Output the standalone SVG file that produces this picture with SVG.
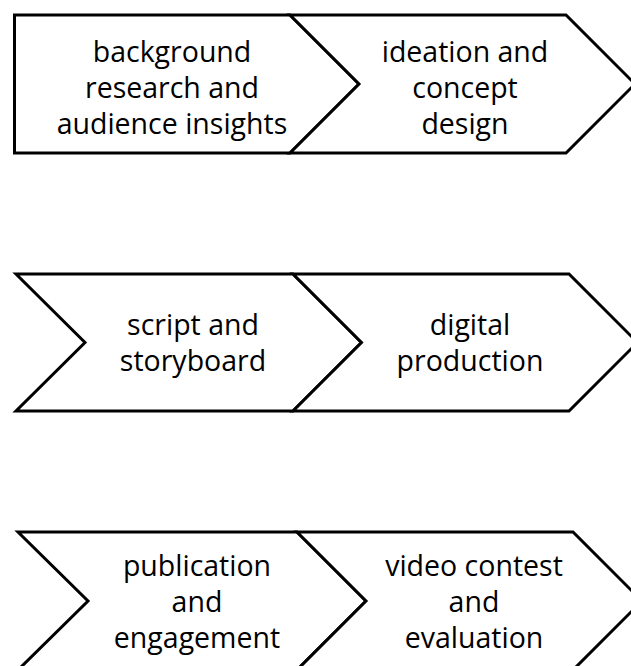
<svg xmlns="http://www.w3.org/2000/svg" width="631" height="666" viewBox="0 0 631 666">
<style>
.shape{fill:#fff;stroke:#000;stroke-width:3;stroke-linejoin:miter}
.t{font-family:"Open Sans","Noto Sans","Liberation Sans",sans-serif;font-size:28.5px;fill:#000;text-anchor:middle}
</style>
<rect width="631" height="666" fill="#fff"/>
<g id="connectors"></g>
<g id="n1">
<path class="shape" d="M14.5,15 H290 L359,84 L290,153 H14.5 Z"/>
<text class="t"><tspan x="172" y="62">background</tspan><tspan x="172" y="98">research and</tspan><tspan x="172" y="134">audience insights</tspan></text>
</g>
<g id="n2">
<path class="shape" d="M290,15 H566 L635,84 L566,153 H290 L359,84 Z"/>
<text class="t"><tspan x="465" y="62">ideation and</tspan><tspan x="465" y="98">concept</tspan><tspan x="465" y="134">design</tspan></text>
</g>
<g id="n3">
<path class="shape" d="M16,274 H293 L361.5,342.5 L293,411 H16 L85,342.5 Z"/>
<text class="t"><tspan x="193" y="335">script and</tspan><tspan x="193" y="371">storyboard</tspan></text>
</g>
<g id="n4">
<path class="shape" d="M293,274 H569 L637.5,342.5 L569,411 H293 L361.5,342.5 Z"/>
<text class="t"><tspan x="470" y="335">digital</tspan><tspan x="470" y="371">production</tspan></text>
</g>
<g id="n5">
<path class="shape" d="M18,532 H297 L366,601 L297,670 H18 L88,601 Z"/>
<text class="t"><tspan x="197" y="576">publication</tspan><tspan x="197" y="612">and</tspan><tspan x="197" y="648">engagement</tspan></text>
</g>
<g id="n6">
<path class="shape" d="M297,532 H573 L642,601 L573,670 H297 L366,601 Z"/>
<text class="t"><tspan x="474" y="576">video contest</tspan><tspan x="474" y="612">and</tspan><tspan x="474" y="648">evaluation</tspan></text>
</g>
</svg>
